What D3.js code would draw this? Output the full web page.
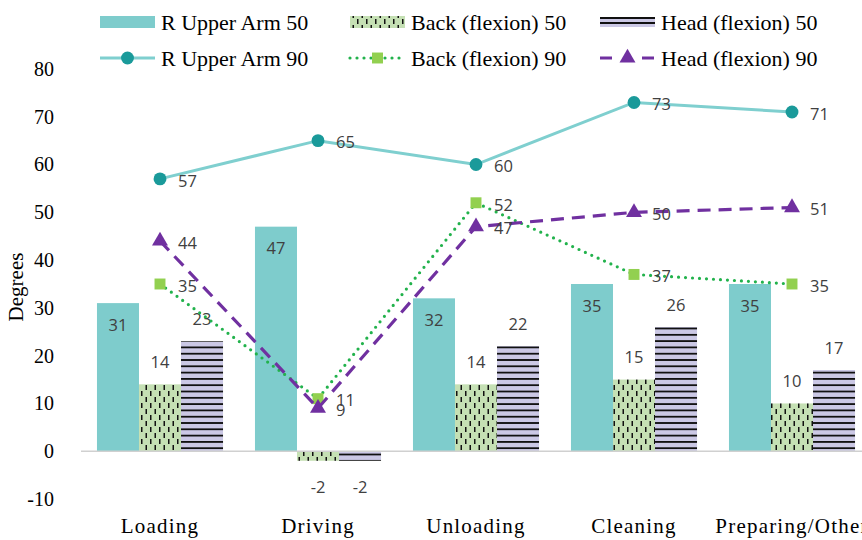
<!DOCTYPE html>
<html>
<head>
<meta charset="utf-8">
<script src="https://cdn.jsdelivr.net/npm/d3@7"></script>
<style>
  html, body { margin: 0; padding: 0; background: #fff; }
  svg { display: block; }
</style>
</head>
<body>
<svg id="chart" width="862" height="540"></svg>
<script>
// Categories and series values (degrees)
const categories = ["Loading", "Driving", "Unloading", "Cleaning", "Preparing/Other"];
const barSeries = ["R Upper Arm 50", "Back (flexion) 50", "Head (flexion) 50"];
const lineSeries = ["R Upper Arm 90", "Back (flexion) 90", "Head (flexion) 90"];
const upperArm50 = [31, 47, 32, 35, 35];
const back50 = [14, -2, 14, 15, 10];
const head50 = [23, -2, 22, 26, 17];
const upperArm90 = [57, 65, 60, 73, 71];
const back90 = [35, 11, 52, 37, 35];
const head90 = [44, 9, 47, 50, 51];
const yTicks = [-10, 0, 10, 20, 30, 40, 50, 60, 70, 80];

const barValues = [upperArm50, back50, head50];
const lineValues = [upperArm90, back90, head90];

const svg = d3.select("#chart");
const defs = svg.append("defs");

// Dashed-vertical fill for the back bars
const pg = defs.append("pattern").attr("id", "backFill")
  .attr("patternUnits", "userSpaceOnUse").attr("width", 9).attr("height", 12);
pg.append("rect").attr("width", 9).attr("height", 12).attr("fill", "#c5e0b4");
pg.append("rect").attr("x", 1.5).attr("y", 1).attr("width", 1.5).attr("height", 5).attr("fill", "#111");
pg.append("rect").attr("x", 6).attr("y", 7).attr("width", 1.5).attr("height", 5).attr("fill", "#111");

// Horizontal-stripe fill for the head bars
const ph = defs.append("pattern").attr("id", "headFill")
  .attr("patternUnits", "userSpaceOnUse").attr("width", 8).attr("height", 6.3);
ph.append("rect").attr("width", 8).attr("height", 6.3).attr("fill", "#cbc8e5");
ph.append("rect").attr("x", 0).attr("y", 0).attr("width", 8).attr("height", 1.8).attr("fill", "#111");

const barFills = ["#7ecccc", "url(#backFill)", "url(#headFill)"];
const lineColors = ["#7fcfcf", "#22b24c", "#7030a0"];
const markerColors = ["#1a9a9a", "#92d050", "#7030a0"];
const lineDash = [null, "0 7", "13 8"];
const markerShapes = [d3.symbolCircle, d3.symbolSquare, d3.symbolTriangle];
const markerSizes = [130, 120, 110];

const serif = "'Liberation Serif', 'Times New Roman', serif";
const sans = "'Open Sans', 'Noto Sans', sans-serif";

// Scales
const y = d3.scaleLinear().domain([-10, 80]).range([499, 69]);
const x0 = d3.scaleBand().domain(categories).range([81, 871]).padding(0);
const x1 = d3.scaleBand().domain(barSeries).range([0, x0.bandwidth()]).paddingOuter(0.38).paddingInner(0);
const cx = c => x0(c) + x0.bandwidth() / 2;

// Y axis (labels only, plain hyphen for negatives)
const yAxis = d3.axisLeft(y).tickValues(yTicks).tickFormat(d => String(d)).tickSize(0).tickPadding(0);
const gy = svg.append("g").attr("transform", "translate(54,0)").call(yAxis);
gy.select(".domain").remove();
gy.selectAll("text").attr("font-family", serif).attr("font-size", 20).attr("fill", "#000");

svg.append("text")
  .attr("transform", "translate(23,287) rotate(-90)")
  .attr("text-anchor", "middle")
  .attr("font-family", serif).attr("font-size", 21).attr("fill", "#000")
  .text("Degrees");

// X axis (labels only)
const xAxis = d3.axisBottom(x0).tickSize(0).tickPadding(0);
const gx = svg.append("g").attr("transform", "translate(0,510)").call(xAxis);
gx.select(".domain").remove();
gx.selectAll("text").attr("y", 23).attr("dy", null)
  .attr("font-family", serif).attr("font-size", 21).attr("letter-spacing", 1.2).attr("fill", "#000");

// Bars
barSeries.forEach((s, si) => {
  const vals = barValues[si];
  svg.append("g").selectAll("rect").data(categories).join("rect")
    .attr("x", c => x0(c) + x1(s))
    .attr("width", x1.bandwidth())
    .attr("y", (c, i) => y(Math.max(0, vals[i])))
    .attr("height", (c, i) => Math.abs(y(vals[i]) - y(0)))
    .attr("fill", barFills[si]);
});

// Zero line
svg.append("line")
  .attr("x1", 81).attr("x2", 862).attr("y1", y(0)).attr("y2", y(0))
  .attr("stroke", "#d0d0d0").attr("stroke-width", 1.5);

// Bar value labels
barSeries.forEach((s, si) => {
  const vals = barValues[si];
  svg.append("g").selectAll("text").data(categories).join("text")
    .attr("x", c => x0(c) + x1(s) + x1.bandwidth() / 2)
    .attr("y", (c, i) => {
      const v = vals[i];
      if (si === 0) return y(v) + 22;
      return v >= 0 ? y(v) - 22 : y(v) + 26;
    })
    .attr("dy", "0.35em")
    .attr("text-anchor", "middle")
    .attr("font-family", sans).attr("font-size", 16.5).attr("fill", "#404040")
    .text((c, i) => vals[i]);
});

// Lines with markers
const line = d3.line().x(d => cx(d.c)).y(d => y(d.v));
lineSeries.forEach((s, si) => {
  const pts = categories.map((c, i) => ({ c, v: lineValues[si][i] }));
  const g = svg.append("g");
  g.append("path").datum(pts).attr("d", line)
    .attr("fill", "none").attr("stroke", lineColors[si])
    .attr("stroke-width", si === 0 ? 3 : 3.2)
    .attr("stroke-linecap", si === 1 ? "round" : "butt")
    .attr("stroke-dasharray", lineDash[si]);
  g.selectAll("path.m").data(pts).join("path").attr("class", "m")
    .attr("transform", d => `translate(${cx(d.c)},${y(d.v)})`)
    .attr("d", d3.symbol().type(markerShapes[si]).size(markerSizes[si]))
    .attr("fill", markerColors[si]);
  g.selectAll("text").data(pts).join("text")
    .attr("x", d => cx(d.c) + 18)
    .attr("y", d => y(d.v) + 2)
    .attr("dy", "0.35em")
    .attr("font-family", sans).attr("font-size", 16.5).attr("fill", "#404040")
    .text(d => d.v);
});

// Legend
const legendX = [100, 350, 600];
const rowBar = 22, rowLine = 58;
barSeries.forEach((s, si) => {
  const lx = legendX[si];
  if (si === 2) {
    svg.append("rect").attr("x", lx).attr("y", rowBar - 5).attr("width", 55).attr("height", 10).attr("fill", "#cbc8e5");
    svg.append("rect").attr("x", lx).attr("y", rowBar - 5).attr("width", 55).attr("height", 2).attr("fill", "#111");
    svg.append("rect").attr("x", lx).attr("y", rowBar).attr("width", 55).attr("height", 2).attr("fill", "#111");
  } else {
    svg.append("rect").attr("x", lx).attr("y", rowBar - 6).attr("width", 55).attr("height", 12).attr("fill", barFills[si]);
  }
  svg.append("text").attr("x", lx + 61).attr("y", rowBar).attr("dy", "0.35em")
    .attr("font-family", serif).attr("font-size", 22).attr("fill", "#000").text(s);
});
lineSeries.forEach((s, si) => {
  const lx = legendX[si];
  svg.append("line").attr("x1", lx).attr("x2", lx + 55).attr("y1", rowLine).attr("y2", rowLine)
    .attr("stroke", lineColors[si]).attr("stroke-width", si === 0 ? 3 : 3.2)
    .attr("stroke-linecap", si === 1 ? "round" : "butt")
    .attr("stroke-dasharray", si === 2 ? "12 9" : lineDash[si]);
  if (si === 2) {
    svg.append("rect").attr("x", lx + 20).attr("y", rowLine - 3).attr("width", 15).attr("height", 6).attr("fill", "#fff");
  }
  svg.append("path").attr("transform", `translate(${lx + 27.5},${rowLine})`)
    .attr("d", d3.symbol().type(markerShapes[si]).size(markerSizes[si]))
    .attr("fill", markerColors[si]);
  svg.append("text").attr("x", lx + 61).attr("y", rowLine).attr("dy", "0.35em")
    .attr("font-family", serif).attr("font-size", 22).attr("fill", "#000").text(s);
});
</script>
</body>
</html>
